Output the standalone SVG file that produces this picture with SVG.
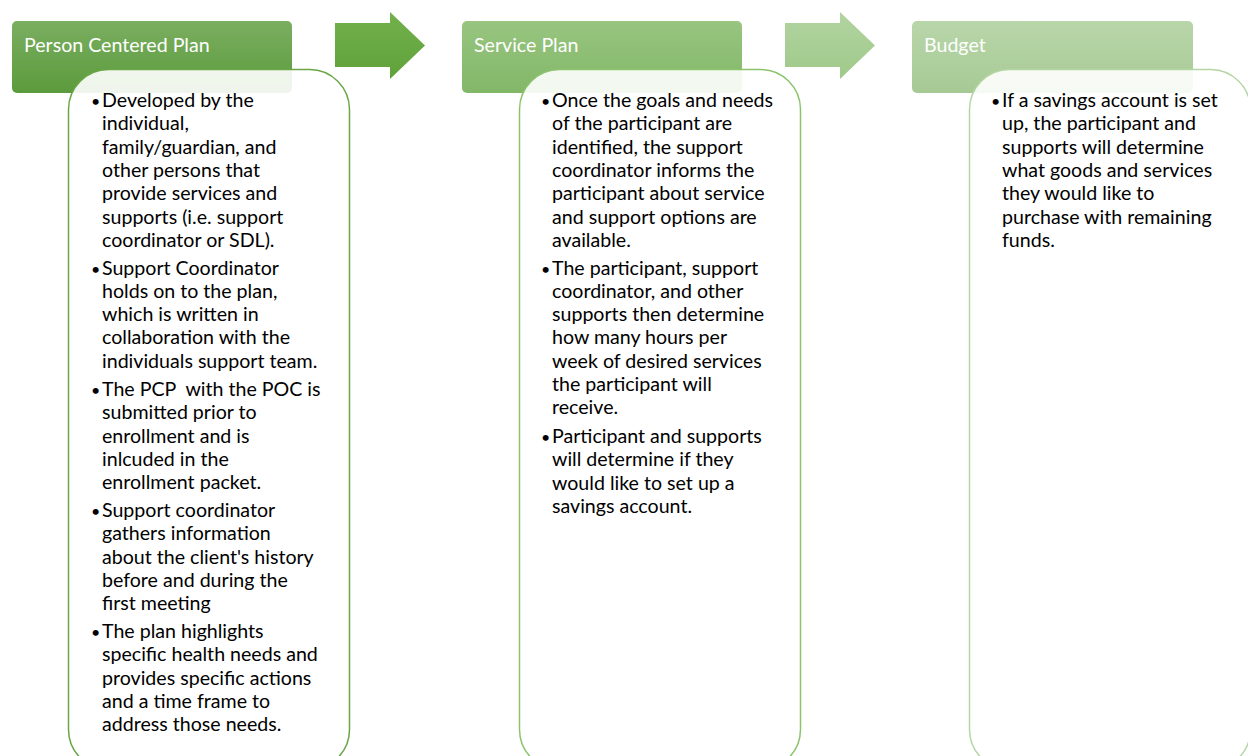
<svg xmlns="http://www.w3.org/2000/svg" width="1248" height="756" viewBox="0 0 1248 756">
<defs>
<linearGradient id="g1" x1="0" y1="0" x2="0" y2="1"><stop offset="0" stop-color="#7aae60"/><stop offset="1" stop-color="#5c9b3c"/></linearGradient>
<linearGradient id="g2" x1="0" y1="0" x2="0" y2="1"><stop offset="0" stop-color="#98c580"/><stop offset="1" stop-color="#82b768"/></linearGradient>
<linearGradient id="g3" x1="0" y1="0" x2="0" y2="1"><stop offset="0" stop-color="#b9d6aa"/><stop offset="1" stop-color="#a6ca94"/></linearGradient>
<linearGradient id="a1" x1="0" y1="0" x2="0" y2="1"><stop offset="0" stop-color="#72b04c"/><stop offset="1" stop-color="#60a23a"/></linearGradient>
<linearGradient id="a2" x1="0" y1="0" x2="0" y2="1"><stop offset="0" stop-color="#b2d4a0"/><stop offset="1" stop-color="#9fc98a"/></linearGradient>
<style>
.hd{font-family:Lato,"Liberation Sans",sans-serif;font-size:19.6px;fill:#ffffff}
.tx{font-family:Lato,"Liberation Sans",sans-serif;font-size:19.6px;fill:#000000}
.bl{font-size:16px}
.body{fill:#ffffff;fill-opacity:0.9;stroke-width:1.5}
</style>
</defs>
<g id="connectors">
<path d="M335,23 H390 V12 L425,45.5 L390,79 V67 H335 Z" fill="url(#a1)"/>
<path d="M785,23 H840 V12 L875,45.5 L840,79 V67 H785 Z" fill="url(#a2)"/>
</g>
<g id="node-pcp">
<rect x="12" y="21" width="280" height="72" rx="5" fill="url(#g1)"/>
<text class="hd" x="24" y="52">Person Centered Plan</text>
<rect class="body" x="68.5" y="69.5" width="281" height="700" rx="40" stroke="#6aa646"/>
<text class="tx">
<tspan class="bl" x="91" y="107">•</tspan><tspan x="102" y="107">Developed by the</tspan>
<tspan x="102" y="130.3">individual,</tspan>
<tspan x="102" y="153.6">family/guardian, and</tspan>
<tspan x="102" y="176.9">other persons that</tspan>
<tspan x="102" y="200.2">provide services and</tspan>
<tspan x="102" y="223.5">supports (i.e. support</tspan>
<tspan x="102" y="246.8">coordinator or SDL).</tspan>
<tspan class="bl" x="91" y="274.5">•</tspan><tspan x="102" y="274.5">Support Coordinator</tspan>
<tspan x="102" y="297.8">holds on to the plan,</tspan>
<tspan x="102" y="321.1">which is written in</tspan>
<tspan x="102" y="344.4">collaboration with the</tspan>
<tspan x="102" y="367.7">individuals support team.</tspan>
<tspan class="bl" x="91" y="396">•</tspan><tspan x="102" y="396" xml:space="preserve">The PCP  with the POC is</tspan>
<tspan x="102" y="419.3">submitted prior to</tspan>
<tspan x="102" y="442.6">enrollment and is</tspan>
<tspan x="102" y="465.9">inlcuded in the</tspan>
<tspan x="102" y="489.2">enrollment packet.</tspan>
<tspan class="bl" x="91" y="517">•</tspan><tspan x="102" y="517">Support coordinator</tspan>
<tspan x="102" y="540.3">gathers information</tspan>
<tspan x="102" y="563.6">about the client's history</tspan>
<tspan x="102" y="586.9">before and during the</tspan>
<tspan x="102" y="610.2">first meeting</tspan>
<tspan class="bl" x="91" y="638">•</tspan><tspan x="102" y="638">The plan highlights</tspan>
<tspan x="102" y="661.3">specific health needs and</tspan>
<tspan x="102" y="684.6">provides specific actions</tspan>
<tspan x="102" y="707.9">and a time frame to</tspan>
<tspan x="102" y="731.2">address those needs.</tspan>
</text>
</g>
<g id="node-service">
<rect x="462" y="21" width="280" height="72" rx="5" fill="url(#g2)"/>
<text class="hd" x="474" y="52">Service Plan</text>
<rect class="body" x="519.5" y="69.5" width="281" height="700" rx="40" stroke="#8cc46e"/>
<text class="tx">
<tspan class="bl" x="541" y="107">•</tspan><tspan x="552" y="107">Once the goals and needs</tspan>
<tspan x="552" y="130.3">of the participant are</tspan>
<tspan x="552" y="153.6">identified, the support</tspan>
<tspan x="552" y="176.9">coordinator informs the</tspan>
<tspan x="552" y="200.2">participant about service</tspan>
<tspan x="552" y="223.5">and support options are</tspan>
<tspan x="552" y="246.8">available.</tspan>
<tspan class="bl" x="541" y="274.5">•</tspan><tspan x="552" y="274.5">The participant, support</tspan>
<tspan x="552" y="297.8">coordinator, and other</tspan>
<tspan x="552" y="321.1">supports then determine</tspan>
<tspan x="552" y="344.4">how many hours per</tspan>
<tspan x="552" y="367.7">week of desired services</tspan>
<tspan x="552" y="391">the participant will</tspan>
<tspan x="552" y="414.3">receive.</tspan>
<tspan class="bl" x="541" y="443">•</tspan><tspan x="552" y="443">Participant and supports</tspan>
<tspan x="552" y="466.3">will determine if they</tspan>
<tspan x="552" y="489.6">would like to set up a</tspan>
<tspan x="552" y="512.9">savings account.</tspan>
</text>
</g>
<g id="node-budget">
<rect x="912" y="21" width="281" height="72" rx="5" fill="url(#g3)"/>
<text class="hd" x="924" y="52">Budget</text>
<rect class="body" x="969.5" y="69.5" width="281" height="700" rx="40" stroke="#b5d6a4"/>
<text class="tx">
<tspan class="bl" x="991" y="107">•</tspan><tspan x="1002" y="107">If a savings account is set</tspan>
<tspan x="1002" y="130.3">up, the participant and</tspan>
<tspan x="1002" y="153.6">supports will determine</tspan>
<tspan x="1002" y="176.9">what goods and services</tspan>
<tspan x="1002" y="200.2">they would like to</tspan>
<tspan x="1002" y="223.5">purchase with remaining</tspan>
<tspan x="1002" y="246.8">funds.</tspan>
</text>
</g>
</svg>
